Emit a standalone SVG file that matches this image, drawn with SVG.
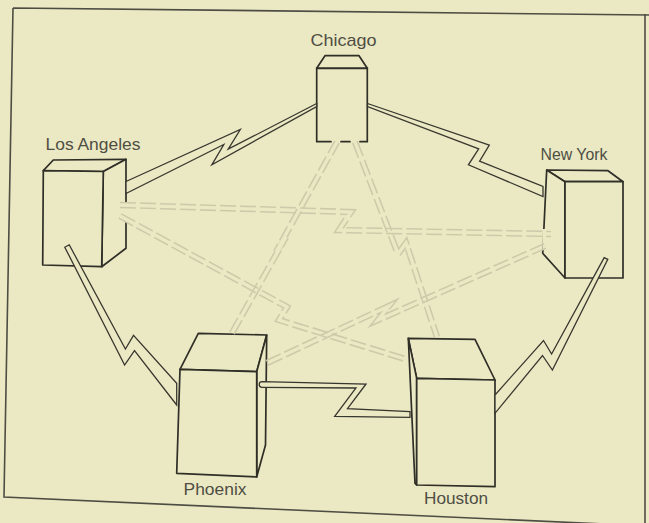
<svg xmlns="http://www.w3.org/2000/svg" width="649" height="523" viewBox="0 0 649 523">
  <defs>
    <style>
      .paper{fill:#ebe9c3}
      .frame{fill:none;stroke:#4e4d44;stroke-width:1.6}
      .face{fill:#ebe9c3;stroke:#2f2e27;stroke-width:1.7;stroke-linejoin:round}
      .edge{fill:none;stroke:#2f2e27;stroke-width:1.7;stroke-linecap:round}
      .link{fill:#ebe9c3;stroke:#38372f;stroke-width:1.3;stroke-linejoin:miter;stroke-miterlimit:14}
      .ghost{fill:none;stroke:#cdcaab;stroke-width:6.5;stroke-dasharray:16 4;stroke-linejoin:miter;stroke-miterlimit:14}
      .ghostcut{fill:none;stroke:#000;stroke-width:3.4;stroke-linejoin:miter;stroke-miterlimit:14}
      .gap{stroke:#ebe9c3;stroke-width:3;fill:none}
      .label{font-family:"Liberation Sans",Arial,Helvetica,sans-serif;font-size:17px;fill:#4f4e45;text-anchor:middle}
    </style>
    <!-- centre lines of the backup (dashed) circuits -->
    <path id="p-la-ny" d="M120,205 L351,212 L339,230 L551,234"/>
    <path id="p-la-hou" d="M120,216 L287,307 L279,320 L405,359"/>
    <path id="p-phx-ny" d="M267,363 L389,306 L378,320 L545,246"/>
    <path id="p-phx-chi" d="M232,333 L286,237 L276,252 L337,142"/>
    <path id="p-hou-chi" d="M355,142 L398,254 L406,243 L437,337"/>
    <!-- each mask hollows out the middle of its own dashed band -->
    <mask id="m-la-ny" maskUnits="userSpaceOnUse" x="0" y="0" width="649" height="523"><rect width="649" height="523" fill="#fff"/><use href="#p-la-ny" class="ghostcut"/></mask>
    <mask id="m-la-hou" maskUnits="userSpaceOnUse" x="0" y="0" width="649" height="523"><rect width="649" height="523" fill="#fff"/><use href="#p-la-hou" class="ghostcut"/></mask>
    <mask id="m-phx-ny" maskUnits="userSpaceOnUse" x="0" y="0" width="649" height="523"><rect width="649" height="523" fill="#fff"/><use href="#p-phx-ny" class="ghostcut"/></mask>
    <mask id="m-phx-chi" maskUnits="userSpaceOnUse" x="0" y="0" width="649" height="523"><rect width="649" height="523" fill="#fff"/><use href="#p-phx-chi" class="ghostcut"/></mask>
    <mask id="m-hou-chi" maskUnits="userSpaceOnUse" x="0" y="0" width="649" height="523"><rect width="649" height="523" fill="#fff"/><use href="#p-hou-chi" class="ghostcut"/></mask>
  </defs>

  <rect class="paper" x="0" y="0" width="649" height="523"/>

  <!-- page frame -->
  <path class="frame" d="M13,8 L649,15 M13,8 L4,497 L649,526 M645,14 L645,523"/>

  <!-- nodes -->
  <g id="chicago">
    <polygon class="face" points="316.7,68.3 325,55.7 359,55.7 367.3,68.3"/>
    <rect class="paper" x="316.7" y="68.3" width="50.6" height="73.4"/>
    <path class="edge" d="M316.7,141.7 V68.3 H367.3 V141.7 M316.7,141.7 H331 M341,141.7 H350 M360,141.7 H367.3"/>
    <text class="label" x="343.5" y="46" textLength="66" lengthAdjust="spacingAndGlyphs">Chicago</text>
  </g>

  <g id="los-angeles">
    <polygon class="face" points="43.3,170.7 53.3,160 126,159.3 103.3,171.5"/>
    <polygon class="face" points="103.3,171.5 126,159.3 126,248.3 101.7,266.7"/>
    <polygon class="face" points="43.3,170.7 103.3,171.5 101.7,266.7 42.7,265"/>
    <path class="gap" d="M126,202 V222"/>
    <text class="label" x="93" y="150" textLength="95" lengthAdjust="spacingAndGlyphs">Los Angeles</text>
  </g>

  <g id="new-york">
    <polygon class="face" points="565,181.7 546.7,170 608,170.7 623,181.7"/>
    <polygon class="face" points="546.7,170 565,181.7 565,278 542.7,253.3"/>
    <polygon class="face" points="565,181.7 623,181.7 623,278 565,278"/>
    <path class="gap" d="M543.8,229 V249"/>
    <text class="label" x="574" y="160" textLength="67" lengthAdjust="spacingAndGlyphs">New York</text>
  </g>

  <g id="phoenix">
    <polygon class="face" points="180,369.3 198.3,333.3 266.7,335 256.7,371.7"/>
    <polygon class="face" points="256.7,371.7 266.7,335 265.5,445 256.7,477"/>
    <polygon class="face" points="180,369.3 256.7,371.7 256.7,477 176.7,473.3"/>
    <text class="label" x="215" y="495" textLength="63" lengthAdjust="spacingAndGlyphs">Phoenix</text>
  </g>

  <g id="houston">
    <polygon class="face" points="408.3,338.3 475,339.3 495,380 416.7,378.3"/>
    <polygon class="face" points="408.3,338.3 416.7,378.3 416.7,485 415,483.3"/>
    <polygon class="face" points="416.7,378.3 495,380 495,486.7 416.7,485"/>
    <text class="label" x="456" y="504" textLength="64" lengthAdjust="spacingAndGlyphs">Houston</text>
  </g>

  <!-- circuits -->
  <g id="connectors">
    <use href="#p-la-ny" class="ghost" mask="url(#m-la-ny)"/>
    <use href="#p-la-hou" class="ghost" mask="url(#m-la-hou)"/>
    <use href="#p-phx-ny" class="ghost" mask="url(#m-phx-ny)"/>
    <use href="#p-phx-chi" class="ghost" mask="url(#m-phx-chi)"/>
    <use href="#p-hou-chi" class="ghost" mask="url(#m-hou-chi)"/>

    <polygon id="la-chicago" class="link" points="126,181.5 240.3,129.5 228.2,149.2 316.7,103.5 316.7,106.5 211.8,164.8 223.8,144.5 126,193.5"/>
    <polygon id="ny-chicago" class="link" points="367.5,103.5 489.3,145.2 479.6,161.2 543,186.5 543,196.5 468.4,164.8 478.7,148.8 367.5,106.5"/>
    <polygon id="la-phoenix" class="link" points="69.2,244.8 125.4,349 133.5,335.4 176.7,383.3 176.7,405 134.5,350.6 124.6,365 64.8,247.2"/>
    <polygon id="ny-houston" class="link" points="604.2,257.6 551.6,354 543.5,340.5 495,395 495,413.3 542.5,355.5 552.4,370 607.8,259.4"/>
    <path id="phoenix-houston" class="link" d="M262,381.7 L366,384 L347.5,408.7 L410,411.7 L410,417.3 L334.7,416.3 L356,388 L262,387.3 A2.8,2.8 0 0 1 262,381.7 Z"/>
  </g>
</svg>
